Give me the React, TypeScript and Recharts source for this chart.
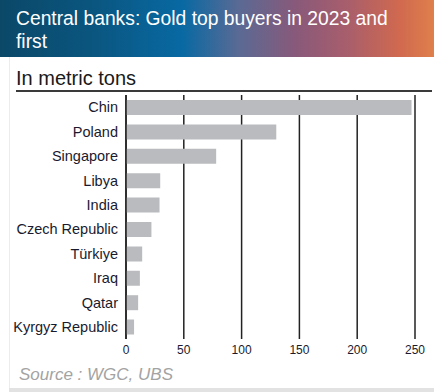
import { BarChart, Bar, XAxis, YAxis, CartesianGrid } from "recharts";

// values, in metric tons
const countries = [
  "Chin",
  "Poland",
  "Singapore",
  "Libya",
  "India",
  "Czech Republic",
  "Türkiye",
  "Iraq",
  "Qatar",
  "Kyrgyz Republic",
];
const tons = [247, 130, 78, 29.6, 29, 22, 14, 12, 10.5, 7];
const xTicks = [0, 50, 100, 150, 200, 250];

const data = countries.map((name, i) => ({ name, tons: tons[i] }));

const titleStyle = {
  position: "absolute" as const,
  left: 16,
  color: "#fff",
  fontFamily: "'Liberation Sans', Arial, sans-serif",
  fontSize: 20.5,
  lineHeight: "22px",
  height: 22,
  whiteSpace: "nowrap" as const,
  transform: "scaleX(0.94)",
  transformOrigin: "left top",
};

export default function App() {
  return (
    <div style={{ position: "relative", width: 434, height: 392, background: "#fff", overflow: "hidden" }}>
      <style>{`body{margin:0}`}</style>

      {/* header band */}
      <div
        style={{
          position: "absolute",
          left: 0,
          top: 0,
          width: 434,
          height: 57,
          background:
            "linear-gradient(90deg, #0b4868 0%, #0a5680 22%, #0869a3 42%, #5a6a94 55%, #88597a 68%, #a85e6c 80%, #d0694f 92%, #df7f4c 100%)",
        }}
      />
      <div style={{ ...titleStyle, top: 7 }}>Central banks: Gold top buyers in 2023 and</div>
      <div style={{ ...titleStyle, top: 30 }}>first</div>

      {/* card edges */}
      <div style={{ position: "absolute", left: 9, top: 57, width: 1, height: 331, background: "#ececec" }} />
      <div style={{ position: "absolute", left: 9, top: 388, width: 425, height: 4, background: "#e2e2e2" }} />

      <div
        style={{
          position: "absolute",
          left: 16,
          top: 67,
          fontFamily: "'Liberation Sans', Arial, sans-serif",
          fontSize: 20,
          color: "#1a1a1a",
        }}
      >
        In metric tons
      </div>
      <div style={{ position: "absolute", left: 16, top: 90, width: 416, height: 2, background: "#3a3a3a" }} />

      <div style={{ position: "absolute", left: 0, top: 0 }}>
        <BarChart
          width={434}
          height={392}
          data={data}
          layout="vertical"
          margin={{ top: 95, right: 19, left: 0, bottom: 23 }}
          barSize={15}
        >
          <CartesianGrid horizontal={false} vertical={true} stroke="#222" strokeWidth={1.5} />
          <XAxis
            type="number"
            domain={[0, 250]}
            ticks={xTicks}
            axisLine={false}
            tickLine={false}
            height={30}
            tickMargin={0}
            tick={{ fontSize: 12, fill: "#1a1a2e", fontFamily: "'Liberation Sans', Arial, sans-serif" }}
          />
          <YAxis
            type="category"
            dataKey="name"
            width={126}
            axisLine={{ stroke: "#222", strokeWidth: 1.5 }}
            tickLine={false}
            tick={{ fontSize: 14.5, fill: "#1a1a2e", fontFamily: "'Liberation Sans', Arial, sans-serif" }}
          />
          <Bar dataKey="tons" fill="#babbbe" isAnimationActive={false} />
        </BarChart>
      </div>

      <div
        style={{
          position: "absolute",
          left: 19,
          top: 365,
          fontFamily: "'Liberation Sans', Arial, sans-serif",
          fontStyle: "italic",
          fontSize: 17,
          color: "#a3a3a3",
        }}
      >
        Source : WGC, UBS
      </div>
    </div>
  );
}
